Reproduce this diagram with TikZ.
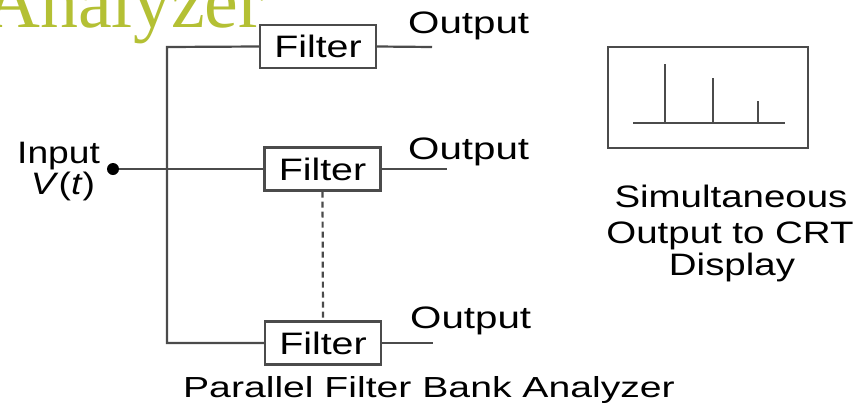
\documentclass[tikz,border=0pt]{standalone}
\usepackage{fontspec}
\usepackage{graphicx}
\setmainfont{Liberation Sans}
\newfontfamily\titlefont{Liberation Serif}
\definecolor{titleolive}{RGB}{180,192,52}
\definecolor{ink}{RGB}{75,75,75}
\newcommand{\hs}[2][1.27]{\scalebox{#1}[1]{#2}}
\begin{document}
\begin{tikzpicture}[x=1pt,y=-1pt,
  filterbox/.style={draw=ink, line width=2.4pt, minimum width=116pt, minimum height=43pt, inner sep=0pt, font=\fontsize{31}{34}\selectfont},
  lbl/.style={inner sep=0pt, font=\fontsize{31}{34}\selectfont},
  wire/.style={draw=ink, line width=2.2pt},
  ]
\useasboundingbox (0,0) rectangle (857,402);
\clip (0,0) rectangle (857,402);
% title (cut off at the top, as in the reference)
\node[anchor=base east, inner sep=0pt, text=titleolive, font=\titlefont\fontsize{76}{80}\selectfont] (title) at (264,27) {Analyzer};
% filters
\node[filterbox] (f1) at (318,46.5) {\hs{Filter}};
\node[filterbox] (f2) at (322.5,169) {\hs{Filter}};
\node[filterbox] (f3) at (323,343) {\hs{Filter}};
% bus
\coordinate (bt) at (167,47);
\coordinate (bb) at (167,343);
\draw[wire] (f1.west) -- (bt) -- (bb) -- (f3.west);
% input
\node[circle, fill=black, minimum size=12pt, inner sep=0pt] (dot) at (113,169) {};
\draw[wire] (dot) -- (f2.west);
\node[lbl, anchor=base west] (inp) at (17,163) {\hs[1.2]{Input}};
\node[lbl, anchor=base] (vt) at (63,194) {\hs[1.2]{\textit{V}(\textit{t})}};
% dashed
\draw[draw=ink, line width=2.2pt, dash pattern=on 6pt off 4pt] (f2.south) -- (f3.north);
% outputs
\coordinate (o1) at (432,47);
\coordinate (o2) at (447,169);
\coordinate (o3) at (433,343);
\draw[wire] (f1.east) -- (o1);
\draw[wire] (f2.east) -- (o2);
\draw[wire] (f3.east) -- (o3);
\node[lbl, anchor=base west] (out1) at (408,33) {\hs[1.3]{Output}};
\node[lbl, anchor=base west] (out2) at (408,159) {\hs[1.3]{Output}};
\node[lbl, anchor=base west] (out3) at (410,328) {\hs[1.3]{Output}};
% CRT display
\node[draw=ink, line width=2.4pt, minimum width=200pt, minimum height=101pt, inner sep=0pt] (crt) at (708,97.5) {};
\coordinate (a1) at (633,123);
\coordinate (a2) at (785,123);
\draw[wire] (a1) -- (a2);
\coordinate (s1b) at (665,123); \coordinate (s1t) at (665,64);
\coordinate (s2b) at (713,123); \coordinate (s2t) at (713,78);
\coordinate (s3b) at (758,123); \coordinate (s3t) at (758,101);
\draw[wire] (s1b) -- (s1t);
\draw[wire] (s2b) -- (s2t);
\draw[wire] (s3b) -- (s3t);
\node[lbl, anchor=base] (c1) at (731,207) {\hs[1.24]{Simultaneous}};
\node[lbl, anchor=base] (c2) at (730,243) {\hs[1.24]{Output to CRT}};
\node[lbl, anchor=base] (c3) at (732,275) {\hs[1.24]{Display}};
% caption
\node[anchor=base, inner sep=0pt, font=\fontsize{29}{32}\selectfont] (cap) at (429,397) {\hs[1.35]{Parallel Filter Bank Analyzer}};
\end{tikzpicture}
\end{document}
